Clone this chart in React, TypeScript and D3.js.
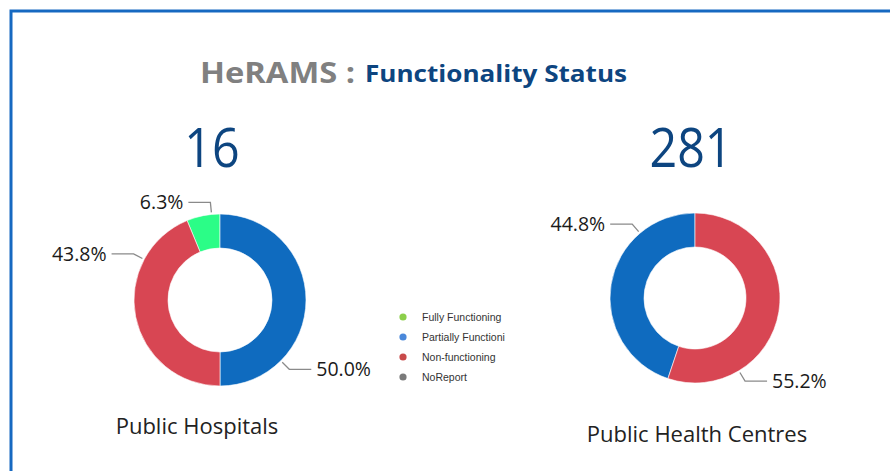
import * as d3 from 'd3';
import { useEffect, useRef } from 'react';

const statusNames = ['Fully Functioning', 'Partially Functioning', 'Non-functioning', 'NoReport'];
const legendLabels = ['Fully Functioning', 'Partially Functioni', 'Non-functioning', 'NoReport'];
const sliceColors = ['#2bfd87', '#0f6bbf', '#d84653', '#808080'];
const legendColors = ['#8ccf4b', '#4a88da', '#c84a4a', '#7a7a7a'];

const hospitalValues = [1, 8, 7, 0];
const healthCentreValues = [0, 126, 155, 0];

const hospitalTotal = 16;
const healthCentreTotal = 281;

const W = 890;
const H = 471;

function drawDonut(
    g: d3.Selection<SVGGElement, unknown, null, undefined>,
    values: number[],
    outer: number,
    inner: number
) {
    const items = statusNames
        .map((name, i) => ({ name, value: values[i], color: sliceColors[i] }))
        .filter((d) => d.value > 0);
    const total = d3.sum(items, (d) => d.value);

    const pie = d3.pie<{ name: string; value: number; color: string }>()
        .value((d) => d.value)
        .sort((a, b) => b.value - a.value);
    const arcs = pie(items);
    const arc = d3.arc<d3.PieArcDatum<{ name: string; value: number; color: string }>>()
        .innerRadius(inner)
        .outerRadius(outer);

    g.selectAll('path.slice')
        .data(arcs)
        .enter()
        .append('path')
        .attr('class', 'slice')
        .attr('d', arc)
        .attr('fill', (d) => d.data.color)
        .attr('stroke', '#fff')
        .attr('stroke-width', 0.6);

    arcs.forEach((d) => {
        // label lines sit three quarters of the way through each slice
        const a = d.startAngle + (d.endAngle - d.startAngle) * 0.75;
        const sx = Math.sin(a);
        const sy = -Math.cos(a);
        const p0 = [sx * (outer + 2), sy * (outer + 2)];
        const p1 = [sx * (outer + 12), sy * (outer + 12)];
        const dir = sx < 0 ? -1 : 1;
        const p2 = [p1[0] + dir * 22, p1[1]];

        g.append('polyline')
            .attr('points', [p0, p1, p2].map((p) => p.join(',')).join(' '))
            .attr('fill', 'none')
            .attr('stroke', '#8a8a8a')
            .attr('stroke-width', 1.3);

        g.append('text')
            .attr('x', p2[0] + dir * 5)
            .attr('y', p2[1] + 7)
            .attr('text-anchor', dir < 0 ? 'end' : 'start')
            .style('font-family', '"Open Sans", sans-serif')
            .style('font-size', '19.5px')
            .attr('fill', '#1a1a1a')
            .text(`${((d.data.value / total) * 100).toFixed(1)}%`);
    });
}

export default function App() {
    const svgRef = useRef<SVGSVGElement>(null);

    useEffect(() => {
        const svg = d3.select(svgRef.current);
        svg.selectAll('*').remove();

        svg.append('rect').attr('width', W).attr('height', H).attr('fill', '#fff');

        svg.append('path')
            .attr('d', `M11,${H + 5} L11,11 L${W + 5},11`)
            .attr('fill', 'none')
            .attr('stroke', '#1669c1')
            .attr('stroke-width', 3);

        svg.append('text')
            .attr('x', 200)
            .attr('y', 83)
            .attr('textLength', 155)
            .attr('lengthAdjust', 'spacingAndGlyphs')
            .style('font-family', '"Open Sans", sans-serif')
            .style('font-weight', '700')
            .style('font-size', '28px')
            .attr('fill', '#808080')
            .text('HeRAMS :');

        svg.append('text')
            .attr('x', 365)
            .attr('y', 82)
            .attr('textLength', 262)
            .attr('lengthAdjust', 'spacingAndGlyphs')
            .style('font-family', '"Open Sans", sans-serif')
            .style('font-weight', '700')
            .style('font-size', '24px')
            .attr('fill', '#0d4580')
            .text('Functionality Status');

        const totals = [
            { value: hospitalTotal, x: 212 },
            { value: healthCentreTotal, x: 691 },
        ];
        totals.forEach((t) => {
            svg.append('g')
                .attr('transform', `translate(${t.x},167) scale(0.88,1)`)
                .append('text')
                .attr('text-anchor', 'middle')
                .style('font-family', '"Open Sans", sans-serif')
                .style('font-size', '55px')
                .attr('fill', '#0d4580')
                .text(String(t.value));
        });

        const left = svg.append('g').attr('transform', 'translate(220,300)');
        drawDonut(left, hospitalValues, 86, 52);

        const right = svg.append('g').attr('transform', 'translate(695,298)');
        drawDonut(right, healthCentreValues, 85, 51);

        svg.append('text')
            .attr('x', 197)
            .attr('y', 434)
            .attr('text-anchor', 'middle')
            .style('font-family', '"Open Sans", sans-serif')
            .style('font-size', '22px')
            .attr('fill', '#222')
            .text('Public Hospitals');

        svg.append('text')
            .attr('x', 697)
            .attr('y', 442)
            .attr('text-anchor', 'middle')
            .style('font-family', '"Open Sans", sans-serif')
            .style('font-size', '22px')
            .attr('fill', '#222')
            .text('Public Health Centres');

        const legendY = d3.scalePoint<string>().domain(legendLabels).range([317, 377]);
        const legend = svg.append('g');
        legend.selectAll('circle')
            .data(legendLabels)
            .enter()
            .append('circle')
            .attr('cx', 403)
            .attr('cy', (d) => legendY(d) || 0)
            .attr('r', 3.6)
            .attr('fill', (_d, i) => legendColors[i]);
        legend.selectAll('text')
            .data(legendLabels)
            .enter()
            .append('text')
            .attr('x', 422)
            .attr('y', (d) => (legendY(d) || 0) + 4)
            .style('font-family', '"Liberation Sans", Arial, sans-serif')
            .style('font-size', '10.5px')
            .attr('fill', '#333')
            .text((d) => d);
    }, []);

    return (
        <svg
            ref={svgRef}
            width={W}
            height={H}
            style={{ position: 'absolute', left: 0, top: 0, display: 'block' }}
        ></svg>
    );
}
